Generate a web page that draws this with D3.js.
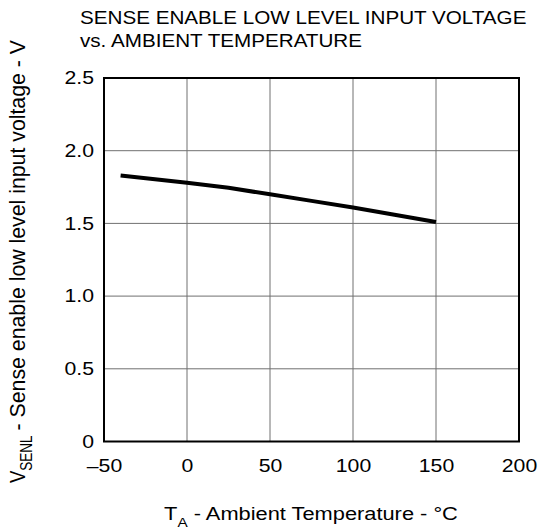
<!DOCTYPE html>
<html><head><meta charset="utf-8">
<script src="https://cdn.jsdelivr.net/npm/d3@7"></script>
<style>body{margin:0;background:#fff}text{font-family:"Liberation Sans",Arial,sans-serif;fill:#000}</style>
</head><body>
<script>
const temps = [-40, 0, 25, 50, 75, 100, 125, 150];
const volts = [1.83, 1.78, 1.745, 1.70, 1.655, 1.61, 1.56, 1.51];
const xTicks = [-50, 0, 50, 100, 150, 200];
const xTickLabels = ["\u201350", "0", "50", "100", "150", "200"];
const yTicks = [0, 0.5, 1.0, 1.5, 2.0, 2.5];
const yTickLabels = ["0", "0.5", "1.0", "1.5", "2.0", "2.5"];
const titleLines = ["SENSE ENABLE LOW LEVEL INPUT VOLTAGE", "vs. AMBIENT TEMPERATURE"];

const W = 541, H = 531, SX = 1.18;
const m = {l: 104, r: 22, t: 78, b: 89.5};
const svg = d3.select("body").append("svg").attr("width", W).attr("height", H);
const x = d3.scaleLinear().domain([-50, 200]).range([m.l, W - m.r]);
const y = d3.scaleLinear().domain([0, 2.5]).range([H - m.b, m.t]);
const stretch = (ax) => `translate(${ax},0) scale(${SX},1) translate(${-ax},0)`;

// grid
svg.append("g").selectAll("line").data(xTicks.slice(1, -1)).join("line")
  .attr("x1", d => x(d)).attr("x2", d => x(d)).attr("y1", y(0)).attr("y2", y(2.5))
  .attr("stroke", "#707070").attr("stroke-width", 1);
svg.append("g").selectAll("line").data(yTicks.slice(1, -1)).join("line")
  .attr("y1", d => y(d)).attr("y2", d => y(d)).attr("x1", x(-50)).attr("x2", x(200))
  .attr("stroke", "#707070").attr("stroke-width", 1);
svg.append("rect").attr("x", x(-50)).attr("y", y(2.5))
  .attr("width", x(200) - x(-50)).attr("height", y(0) - y(2.5))
  .attr("fill", "none").attr("stroke", "#000").attr("stroke-width", 2);

// axes tick labels
const xa = svg.append("g").attr("transform", `translate(0,${y(0)})`)
  .call(d3.axisBottom(x).tickValues(xTicks).tickFormat((d, i) => xTickLabels[i]).tickSize(0).tickPadding(17.5));
xa.select(".domain").remove();
xa.selectAll("text").attr("font-size", 18).attr("font-family", "Liberation Sans, Arial, sans-serif")
  .attr("fill", "#000").attr("transform", stretch(0));
const ya = svg.append("g").attr("transform", `translate(${x(-50)},0)`)
  .call(d3.axisLeft(y).tickValues(yTicks).tickFormat((d, i) => yTickLabels[i]).tickSize(0).tickPadding(10));
ya.select(".domain").remove();
ya.selectAll("text").attr("font-size", 18).attr("font-family", "Liberation Sans, Arial, sans-serif")
  .attr("fill", "#000").attr("transform", stretch(-10));

// data line
svg.append("path").datum(temps.map((t, i) => [t, volts[i]]))
  .attr("d", d3.line().x(d => x(d[0])).y(d => y(d[1])))
  .attr("fill", "none").attr("stroke", "#000").attr("stroke-width", 4);

// title
svg.append("g").selectAll("text").data(titleLines).join("text")
  .attr("x", 80).attr("y", (d, i) => 24.5 + i * 23).attr("font-size", 17.5)
  .attr("transform", stretch(80)).text(d => d);

// x label
const xl = svg.append("text").attr("x", 311).attr("y", 520).attr("text-anchor", "middle")
  .attr("font-size", 18.5).attr("transform", stretch(311));
xl.append("tspan").text("T");
xl.append("tspan").attr("font-size", 13).attr("dy", 7).text("A");
xl.append("tspan").attr("dy", -7).text(" - Ambient Temperature - \u00b0C");

// y label (rotated, built from pieces)
const yg = svg.append("g").attr("transform", `translate(25,483) scale(${SX},1) rotate(-90)`);
const yv = yg.append("text").attr("x", 0).attr("y", 0).attr("font-size", 18.5).text("V");
const vW = yv.node().getComputedTextLength();
const ys = yg.append("text").attr("x", vW).attr("y", 6).attr("font-size", 13.5).text("SENL");
const sW = ys.node().getComputedTextLength();
const mainStart = vW + sW + 5;
yg.append("text").attr("x", mainStart).attr("y", 0).attr("font-size", 18.5)
  .attr("textLength", 443 - mainStart).attr("lengthAdjust", "spacingAndGlyphs")
  .text("- Sense enable low level input voltage - V");
</script>
</body></html>
